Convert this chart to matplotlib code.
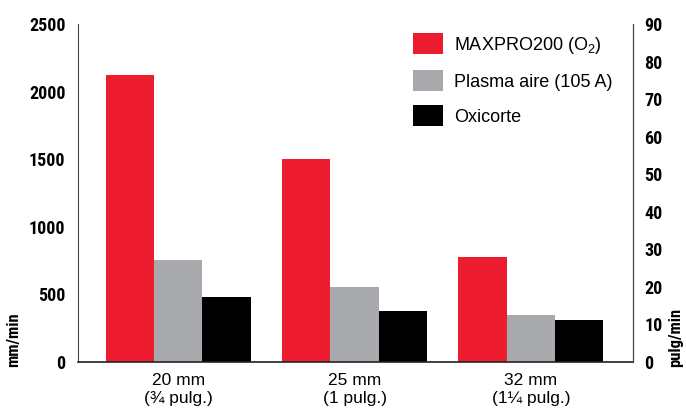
import matplotlib
matplotlib.use('Agg')
import matplotlib.pyplot as plt
from matplotlib import font_manager
import numpy as np

categories = ['20 mm\n(¾ pulg.)', '25 mm\n(1 pulg.)', '32 mm\n(1¼ pulg.)']
series_names = ['MAXPRO200 (O$_2$)', 'Plasma aire (105 A)', 'Oxicorte']
maxpro = [2120, 1500, 777]
plasma = [755, 555, 348]
oxicorte = [481, 377, 311]
left_ticks = [0, 500, 1000, 1500, 2000, 2500]
right_ticks = [0, 10, 20, 30, 40, 50, 60, 70, 80, 90]

colors = ['#ED1C2E', '#A7A9AC', '#000000']

# pick a condensed face for the numbers, if one is installed
installed = set(f.name for f in font_manager.fontManager.ttflist)
narrow = 'DejaVu Sans'
for cand in ['Roboto Condensed', 'Archivo Narrow', 'Liberation Sans Narrow', 'Arimo Narrow',
             'PT Sans Narrow', 'Open Sans Condensed', 'Oswald']:
    if cand in installed:
        narrow = cand
        break

plt.rcParams['mathtext.default'] = 'regular'
plt.rcParams['font.family'] = ['Liberation Sans', 'DejaVu Sans']
tick_font = dict(family=[narrow, 'DejaVu Sans'], weight='bold', size=13)

fig = plt.figure(figsize=(6.86, 4.12), dpi=100)
ax = fig.add_axes([78/686, 1 - 362/412, (633-78)/686, (362-24)/412])

x = np.arange(len(categories))
w = 0.274
for i, (vals, name) in enumerate(zip([maxpro, plasma, oxicorte], series_names)):
    ax.bar(x + (i - 1) * w, vals, w, color=colors[i], label=name)

ax.set_xlim(-0.568, 2.579)
ax.set_ylim(0, 2500)
ax.set_yticks(left_ticks)
ax.set_yticklabels([str(t) for t in left_ticks], **tick_font)
ax.set_xticks(x)
ax.set_xticklabels(categories, fontsize=12.5, linespacing=1.25)
ax.tick_params(axis='both', length=0)
ax.tick_params(axis='y', pad=9)
ax.tick_params(axis='x', pad=8)
ax.spines['top'].set_visible(False)
ax.spines['right'].set_color('#444444')
ax.spines['left'].set_color('#444444')
ax.spines['bottom'].set_color('#222222')
ax.spines['bottom'].set_linewidth(1.2)

ax2 = ax.twinx()
ax2.set_ylim(0, 90)
ax2.set_yticks(right_ticks)
ax2.set_yticklabels([str(t) for t in right_ticks], **tick_font)
ax2.tick_params(axis='y', length=0, pad=8)
ax2.spines['top'].set_visible(False)
ax2.spines['left'].set_visible(False)
ax2.spines['bottom'].set_visible(False)
ax2.spines['right'].set_color('#444444')

fig.text(14/686, 1 - 340/412, 'mm/min', rotation=90, ha='center', va='center',
         family=[narrow, 'DejaVu Sans'], weight='bold', fontsize=12)
fig.text(676/686, 1 - 337/412, 'pulg/min', rotation=90, ha='center', va='center',
         family=[narrow, 'DejaVu Sans'], weight='bold', fontsize=12)

leg = ax.legend(loc='upper left', bbox_to_anchor=(399/686, 1 - 19/412),
                bbox_transform=fig.transFigure, frameon=False, fontsize=13,
                handlelength=1.65, handleheight=1.35, labelspacing=0.82,
                handletextpad=0.6, borderpad=0.3)

fig.savefig('out.png', dpi=100)
